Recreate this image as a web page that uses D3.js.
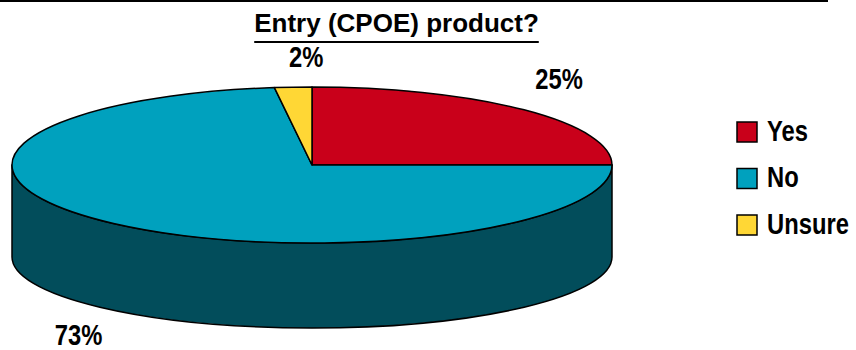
<!DOCTYPE html>
<html>
<head>
<meta charset="utf-8">
<script src="https://cdn.jsdelivr.net/npm/d3@7"></script>
<style>
  body { margin: 0; background: #fff; }
  text { font-family: "Liberation Sans", Arial, sans-serif; font-weight: bold; fill: #000; }
</style>
</head>
<body>
<div id="chart"></div>
<script>
const categories = ["Yes", "No", "Unsure"];
const values = [25, 73, 2];
const pctLabels = ["25%", "73%", "2%"];
const colors = ["#C9001A", "#00A1BE", "#FFD735"];
const sideColor = "#024D5B";

const width = 856, height = 350;
const cx = 312, cy = 165, rx = 300, ry = 78;
const depth = 92, ryBottom = 71;
const narrow = 0.82;

// offsets of the percentage labels from the rim point at each slice's mid angle
const labelOffset = [[35, -21], [-35, 121], [13, -20]];

const svg = d3.select("#chart")
    .append("svg")
    .attr("width", width)
    .attr("height", height);

// rule along the top
svg.append("line")
    .attr("x1", 0).attr("x2", 828)
    .attr("y1", 1).attr("y2", 1)
    .attr("stroke", "#000")
    .attr("stroke-width", 2);

// title with underline
const title = svg.append("text")
    .attr("x", 396.5)
    .attr("y", 32)
    .attr("text-anchor", "middle")
    .style("font-size", "26px")
    .text("Entry (CPOE) product?");
const tb = title.node().getBBox();
svg.append("line")
    .attr("x1", tb.x).attr("x2", tb.x + tb.width)
    .attr("y1", 42).attr("y2", 42)
    .attr("stroke", "#000")
    .attr("stroke-width", 2);

const pie = d3.pie().sort(null).value(d => d);
const arcs = pie(values);

// front side of the disc (only the "No" slice shows here)
svg.append("path")
    .attr("d", `M${cx + rx},${cy} A${rx},${ry} 0 0 1 ${cx - rx},${cy}` +
        ` L${cx - rx},${cy + depth} A${rx},${ryBottom} 0 0 0 ${cx + rx},${cy + depth} Z`)
    .attr("fill", sideColor)
    .attr("stroke", "#000")
    .attr("stroke-width", 1.5)
    .attr("stroke-linejoin", "round");

// top face: circular arcs squashed into an ellipse
const arc = d3.arc().innerRadius(0).outerRadius(rx);
const topFace = svg.append("g")
    .attr("transform", `translate(${cx},${cy}) scale(1,${ry / rx})`);

topFace.selectAll("path")
    .data(arcs)
    .join("path")
    .attr("d", arc)
    .attr("fill", (d, i) => colors[i])
    .attr("stroke", "#000")
    .attr("stroke-width", 1.5)
    .attr("stroke-linejoin", "round")
    .attr("vector-effect", "non-scaling-stroke");

// percentage labels
svg.selectAll("text.pct")
    .data(arcs)
    .join("text")
    .attr("class", "pct")
    .attr("text-anchor", "middle")
    .style("font-size", "29px")
    .attr("transform", (d, i) => {
        const a = (d.startAngle + d.endAngle) / 2;
        const x = cx + rx * Math.sin(a) + labelOffset[i][0];
        const y = cy - ry * Math.cos(a) + labelOffset[i][1];
        return `translate(${x},${y}) scale(${narrow},1)`;
    })
    .text((d, i) => pctLabels[i]);

// legend
const legend = svg.append("g")
    .attr("transform", "translate(737,122)");

const row = legend.selectAll("g")
    .data(categories)
    .join("g")
    .attr("transform", (d, i) => `translate(0,${i * 46.5})`);

row.append("rect")
    .attr("width", 20)
    .attr("height", 20)
    .attr("fill", (d, i) => colors[i])
    .attr("stroke", "#000")
    .attr("stroke-width", 1.5);

row.append("text")
    .attr("transform", `translate(30,18.5) scale(${narrow},1)`)
    .style("font-size", "29px")
    .text(d => d);
</script>
</body>
</html>
